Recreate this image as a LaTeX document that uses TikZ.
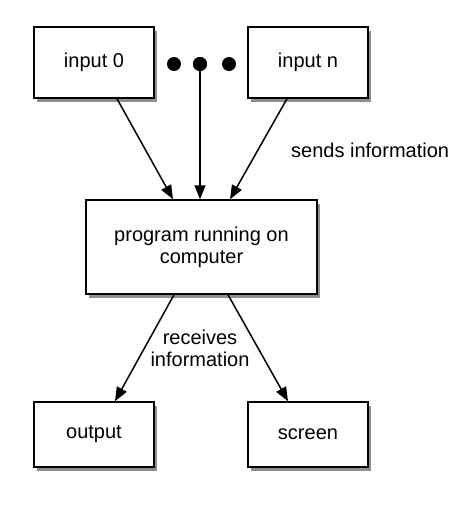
\documentclass[tikz,border=0pt]{standalone}
\usepackage{fontspec}
\setmainfont{Liberation Sans}
\usetikzlibrary{shadows,arrows.meta,calc}
\tikzset{
  box/.style={draw=black, line width=1.5pt, fill=white, minimum width=120pt, inner sep=0pt,
    drop shadow={shadow xshift=2.5pt, shadow yshift=-3.5pt, fill=black!55, opacity=0.8},
    font=\fontsize{20}{24}\selectfont, align=center},
  dotnode/.style={circle, fill=black, minimum size=14pt, inner sep=0pt},
  conn/.style={line width=1.5pt, -{Triangle[length=14pt,width=11pt]}},
  lbl/.style={font=\fontsize{20}{24}\selectfont, align=center, inner sep=0pt}
}
\begin{document}
\begin{tikzpicture}[x=1pt,y=-1pt]
\useasboundingbox (0,0) rectangle (474,507);
\node[box, minimum height=71pt] (in0) at (94,62.5) {input 0};
\node[box, minimum height=71pt] (inn) at (308,62.5) {input n};
\node[box, minimum width=231pt, minimum height=94pt] (prog) at (201.5,247) {program running on\\[-2pt]computer};
\node[box, minimum height=65pt] (out) at (94,434.5) {output};
\node[box, minimum height=65pt] (scr) at (308,434.5) {screen};
\node[dotnode] (d1) at (174,64) {};
\node[dotnode] (d2) at (200,64) {};
\node[dotnode] (d3) at (229,64) {};
\draw[conn] ($(in0.south)+(23,0)$) -- ($(prog.north)+(-28.5,0)$);
\draw[conn] (d2.center) -- (d2.center |- prog.north);
\draw[conn] ($(inn.south)+(-21,0)$) -- ($(prog.north)+(28.5,0)$);
\draw[conn] ($(prog.south)+(-27.5,0)$) -- ($(out.north)+(21,0)$);
\draw[conn] ($(prog.south)+(26.5,0)$) -- ($(scr.north)+(-20,0)$);
\node[dotnode] at (d2) {};
\node[lbl, anchor=west] (sends) at (291,150) {sends information};
\node[lbl] (recv) at (200,348) {receives\\[-2pt]information};
\end{tikzpicture}
\end{document}
